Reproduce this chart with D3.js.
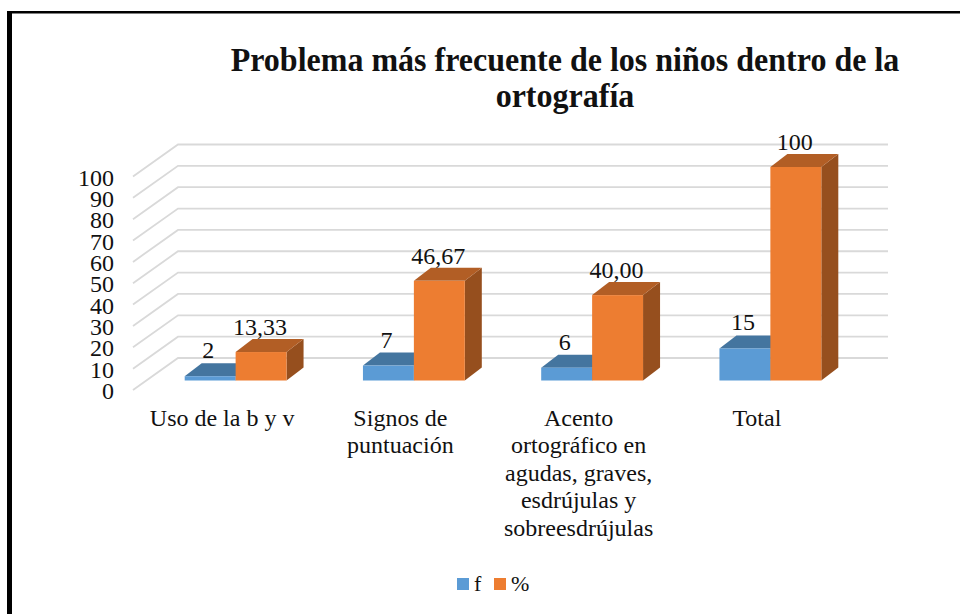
<!DOCTYPE html>
<html><head><meta charset="utf-8">
<script src="https://cdn.jsdelivr.net/npm/d3@7"></script>
<style>html,body{margin:0;padding:0;background:#fff}svg{display:block}text{font-family:"Liberation Serif",serif;fill:#111}</style>
</head><body><svg id="c" width="960" height="614"></svg>
<script>
const categories=["Uso de la b y v","Signos de puntuación","Acento ortográfico en agudas, graves, esdrújulas y sobreesdrújulas","Total"];
const categoryLines=[["Uso de la b y v"],["Signos de","puntuación"],["Acento","ortográfico en","agudas, graves,","esdrújulas y","sobreesdrújulas"],["Total"]];
const seriesF=[2,7,6,15];
const seriesPct=[13.33,46.67,40,100];
const labelsF=["2","7","6","15"];
const labelsPct=["13,33","46,67","40,00","100"];
const ticks=d3.range(0,101,10);
const titleLines=["Problema más frecuente de los niños dentro de la","ortografía"];

const svg=d3.select("#c");
const W=960,H=614;
const y=d3.scaleLinear().domain([0,100]).range([390,176.5]); // front plane
const x=d3.scaleBand().domain(categories).range([133,846]);
const sub=d3.scaleBand().domain(["f","%"]).range([0,x.bandwidth()]).paddingInner(0).paddingOuter(0.75);
const D={x:45,y:-32}, B0={x:13.5,y:-9.5}, B1={x:30.5,y:-22.5};

// frame: thick left edge and thinner top edge only
svg.append("rect").attr("x",7).attr("y",11).attr("width",5).attr("height",H-11).attr("fill","#000");
svg.append("rect").attr("x",7).attr("y",11).attr("width",W-7).attr("height",2.5).attr("fill","#000");

// gridlines
const grid="#d9d9d9";
ticks.forEach(t=>{
  svg.append("path").attr("fill","none").attr("stroke",grid).attr("stroke-width",1.8)
    .attr("d",`M${x.range()[0]} ${y(t)}L${x.range()[0]+D.x} ${y(t)+D.y}H${x.range()[1]+D.x-3}`);
});
// y labels
ticks.forEach(t=>svg.append("text").attr("x",114).attr("y",y(t)+9).attr("text-anchor","end").attr("font-size",24).text(t));

// bars
const colors={f:["#5b9bd5","#44759f","#3f6e98"],"%":["#ed7d31","#b25e25","#964f1e"]};
function bar(cat,key,val){
  const x0=x(cat)+sub(key)+B0.x, w=sub.bandwidth(), base=y(0)+B0.y, top=y(val)+B0.y, dx=B1.x-B0.x, dy=B1.y-B0.y, c=colors[key];
  const g=svg.append("g");
  g.append("path").attr("fill",c[2]).attr("d",`M${x0+w} ${base}L${x0+w+dx} ${base+dy}V${top+dy}L${x0+w} ${top}Z`);
  g.append("path").attr("fill",c[1]).attr("d",`M${x0} ${top}L${x0+dx} ${top+dy}H${x0+w+dx}L${x0+w} ${top}Z`);
  g.append("rect").attr("x",x0).attr("y",top).attr("width",w).attr("height",base-top).attr("fill",c[0]);
  return {x0,w,top};
}
categories.forEach((c,i)=>{
  const a=bar(c,"f",seriesF[i]);
  const b=bar(c,"%",seriesPct[i]);
  svg.append("text").attr("x",a.x0+a.w/2-2).attr("y",a.top-18).attr("text-anchor","middle").attr("font-size",24).text(labelsF[i]);
  svg.append("text").attr("x",b.x0+b.w/2-1).attr("y",b.top-17).attr("text-anchor","middle").attr("font-size",24).text(labelsPct[i]);
});

// category labels
categoryLines.forEach((ls,i)=>{
  const cx=x(categories[i])+x.bandwidth()/2;
  ls.forEach((l,j)=>svg.append("text").attr("x",cx).attr("y",425.5+j*27.6).attr("text-anchor","middle").attr("font-size",24).text(l));
});

// title
titleLines.forEach((l,i)=>{
  const t=svg.append("text").attr("x",565).attr("y",71+i*36).attr("text-anchor","middle").attr("font-size",33).attr("font-weight","bold").text(l);
  t.attr("textLength",t.node().getComputedTextLength()*0.97).attr("lengthAdjust","spacingAndGlyphs");
});

// legend
const lg=[["f",457,"#5b9bd5"],["%",494,"#ed7d31"]];
lg.forEach(d=>{
  svg.append("rect").attr("x",d[1]).attr("y",578).attr("width",12).attr("height",12).attr("fill",d[2]);
  svg.append("text").attr("x",d[1]+17).attr("y",591).attr("font-size",22).text(d[0]);
});
</script></body></html>
